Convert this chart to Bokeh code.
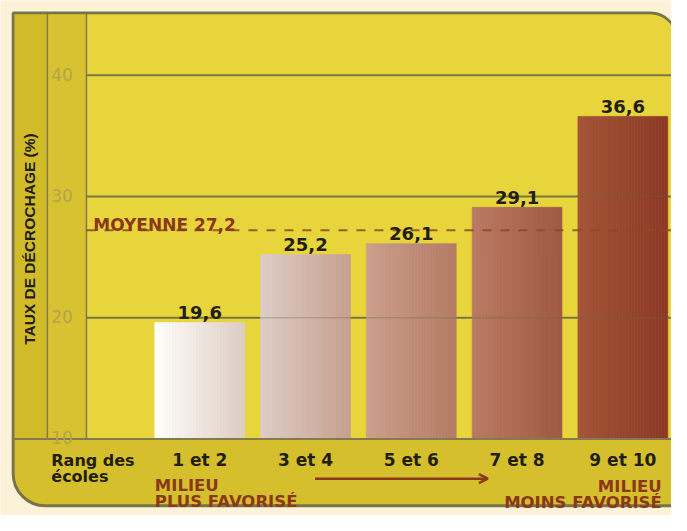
from bokeh.plotting import figure
from bokeh.models import Range1d, BoxAnnotation, Arrow, OpenHead, ColumnDataSource
from bokeh.embed import file_html
from bokeh.resources import INLINE
from bokeh.core.properties import value
import math

# ---------------- data ----------------
categories = ["1 et 2", "3 et 4", "5 et 6", "7 et 8", "9 et 10"]
rates = [19.6, 25.2, 26.1, 29.1, 36.6]
rate_labels = ["19,6", "25,2", "26,1", "29,1", "36,6"]
y_ticks = [10, 20, 30, 40]
y_tick_labels = ["10", "20", "30", "40"]
mean_rate = 27.2
mean_label = "MOYENNE 27,2"
y_title = "TAUX DE DÉCROCHAGE (%)"
x_title = ["Rang des", "écoles"]
left_note = ["MILIEU", "PLUS FAVORISÉ"]
right_note = ["MILIEU", "MOINS FAVORISÉ"]
base_value = 10

# ---------------- layout helpers (reference pixel -> data units) ----------------
STEP = 108.3   # px per category
UNIT = 12.5    # px per percentage point
CX0 = 204.0    # px centre of first category
BASE_PY = 452.0


def X(px):
    return (px - CX0) / STEP


def Y(py):
    return base_value + (BASE_PY - py) / UNIT


CREAM = "#FBF2D8"
OLIVE = "#827C4C"
DARK = "#221E12"
RED = "#8A3818"
BOLD = value("DejaVu Sans")

p = figure(width=671, height=515, output_backend="svg", toolbar_location=None,
           x_range=Range1d(X(0), X(687)), y_range=Range1d(Y(531), Y(0)),
           x_axis_type=None, y_axis_type=None, min_border=0,
           background_fill_color=CREAM, border_fill_color=CREAM,
           outline_line_color=None)
p.grid.visible = False

# panels
p.add_layout(BoxAnnotation(left=X(13), right=X(692), top=Y(13), bottom=Y(521),
                           fill_color="#D5BF2C", fill_alpha=1, line_color="#77744A",
                           line_alpha=1, line_width=3, border_radius=(0, 26, 0, 32),
                           level="underlay"))
p.add_layout(BoxAnnotation(left=X(14.5), right=X(48), top=Y(14.5), bottom=Y(452),
                           fill_color="#D2BB29", fill_alpha=1, line_color=None, level="underlay"))
p.add_layout(BoxAnnotation(left=X(48), right=X(88), top=Y(14.5), bottom=Y(452),
                           fill_color="#D8C232", fill_alpha=1, line_color=None, level="underlay"))
p.add_layout(BoxAnnotation(left=X(88), right=X(690.5), top=Y(14.5), bottom=Y(452),
                           fill_color="#E8D53B", fill_alpha=1, line_color=None,
                           border_radius=(0, 24, 0, 0), level="underlay"))

# panel separators
p.segment(x0=[X(48), X(88)], x1=[X(48), X(88)], y0=[Y(14), Y(14)], y1=[Y(452), Y(452)],
          line_color=OLIVE, line_width=1.5)

# gridlines (under bars)
grid_vals = [t for t in y_ticks if t > base_value]
p.segment(x0=[X(88)] * len(grid_vals), x1=[X(700)] * len(grid_vals),
          y0=grid_vals, y1=grid_vals, line_color=OLIVE, line_width=2)

# gradient bars
grad = [((255, 255, 255), (222, 206, 198)),
        ((222, 205, 202), (199, 160, 144)),
        ((203, 158, 142), (180, 123, 102)),
        ((184, 121, 99), (160, 90, 70)),
        ((163, 84, 57), (139, 56, 38))]
half = 46 / STEP
N = 30
L, R, T, B, C = [], [], [], [], []
for i, v in enumerate(rates):
    c0, c1 = grad[i]
    for k in range(N):
        f = k / (N - 1)
        col = tuple(int(round(c0[j] + (c1[j] - c0[j]) * f)) for j in range(3))
        L.append(i - half + 2 * half * k / N)
        R.append(i - half + 2 * half * (k + 1) / N)
        T.append(v)
        B.append(base_value)
        C.append("#%02x%02x%02x" % col)
p.quad(left=L, right=R, top=T, bottom=B, fill_color=C, line_color=C, line_width=0.6)

# faint gridlines over bars
p.segment(x0=[X(88)] * len(grid_vals), x1=[X(700)] * len(grid_vals),
          y0=grid_vals, y1=grid_vals, line_color="#6E6A40", line_width=1.5, line_alpha=0.3)

# baseline
p.segment(x0=[X(13)], x1=[X(700)], y0=[base_value], y1=[base_value], line_color=OLIVE, line_width=2)

# mean line
p.segment(x0=[X(88)], x1=[X(700)], y0=[mean_rate], y1=[mean_rate],
          line_color="#8C4A1E", line_width=2, line_dash="9 9", line_alpha=0.85)
p.text(x=[X(95)], y=[mean_rate], text=[mean_label], y_offset=-5,
       text_font=BOLD, text_font_style="bold", text_font_size="17px",
       text_color=RED, text_align="left", text_baseline="alphabetic")

# y tick labels
p.text(x=[X(52)] * len(y_ticks), y=y_ticks, text=y_tick_labels, y_offset=-1,
       text_font=value("DejaVu Sans"), text_font_size="17px", text_color="#B3A44C",
       text_align="left", text_baseline="alphabetic")

# value labels
src = ColumnDataSource(dict(x=list(range(len(rates))), y=rates, t=rate_labels))
p.text(x="x", y="y", text="t", source=src, y_offset=-10,
       text_font=BOLD, text_font_style="bold", text_font_size="18px",
       text_color=DARK, text_align="center", text_baseline="alphabetic")

# category labels
p.text(x=list(range(len(categories))), y=[Y(474)] * len(categories), text=categories,
       text_font=BOLD, text_font_style="bold", text_font_size="17px",
       text_color=DARK, text_align="center", text_baseline="alphabetic")
p.text(x=[X(52), X(52)], y=[Y(474), Y(491)], text=x_title,
       text_font=BOLD, text_font_style="bold", text_font_size="16px",
       text_color=DARK, text_align="left", text_baseline="alphabetic")

# notes
p.text(x=[X(158), X(158)], y=[Y(500), Y(517)], text=left_note,
       text_font=BOLD, text_font_style="bold", text_font_size="16.5px",
       text_color=RED, text_align="left", text_baseline="alphabetic")
p.text(x=[X(677), X(677)], y=[Y(501), Y(518)], text=right_note,
       text_font=BOLD, text_font_style="bold", text_font_size="16.5px",
       text_color=RED, text_align="right", text_baseline="alphabetic")
p.add_layout(Arrow(x_start=X(322), x_end=X(499), y_start=Y(493), y_end=Y(493),
                   line_color="#8A3A1C", line_width=2.5,
                   end=OpenHead(size=9, line_color="#8A3A1C", line_width=2.5)))

# y title
p.text(x=[X(30)], y=[Y(246)], text=[y_title], angle=math.pi / 2,
       text_font=value("Liberation Sans"), text_font_style="bold", text_font_size="15.5px",
       text_color=DARK, text_align="center", text_baseline="middle")

open("out.html", "w").write(file_html(p, INLINE))
